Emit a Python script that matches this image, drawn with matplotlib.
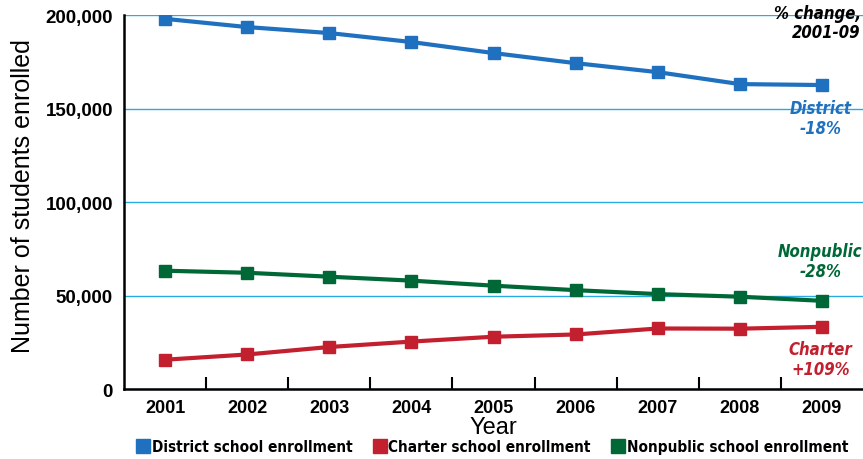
import numpy as np
import matplotlib
matplotlib.use("Agg")
import matplotlib.pyplot as plt
from matplotlib.ticker import FuncFormatter, FixedLocator

years = ["2001", "2002", "2003", "2004", "2005", "2006", "2007", "2008", "2009"]
district = [198000, 193600, 190400, 185600, 179700, 174300, 169500, 163100, 162600]
charter = [15700, 18500, 22500, 25400, 28000, 29200, 32400, 32300, 33300]
nonpublic = [63300, 62200, 60100, 58000, 55300, 52900, 50800, 49400, 47200]

blue = "#1f70bf"
red = "#c3202f"
green = "#006837"
grid_c = "#29abe2"

plt.rcParams['font.family'] = ['Liberation Sans', 'DejaVu Sans']
cond = dict(family=['DejaVu Sans'], stretch='condensed')

fig = plt.figure(figsize=(8.63, 4.6), dpi=100)
ax = fig.add_axes([0.1437, 0.152, 0.8563, 0.813])

x = np.arange(len(years))
ax.plot(x, district, color=blue, lw=3, marker='s', ms=9, label="District school enrollment")
ax.plot(x, charter, color=red, lw=3, marker='s', ms=9, label="Charter school enrollment")
ax.plot(x, nonpublic, color=green, lw=3, marker='s', ms=9, label="Nonpublic school enrollment")

ax.set_xlim(-0.5, 8.5)
ax.set_ylim(0, 200000)
ax.set_yticks([0, 50000, 100000, 150000, 200000])
ax.yaxis.set_major_formatter(FuncFormatter(lambda v, p: f"{int(v):,}"))
ax.yaxis.grid(True, color=grid_c, lw=1)
ax.set_axisbelow(True)
ax.tick_params(axis='y', length=0, pad=8, labelsize=13.5)
for t in ax.get_yticklabels():
    t.set_fontweight('bold')

ax.set_xticks(x)
ax.set_xticklabels(years, fontsize=13, fontweight='bold')
ax.xaxis.set_minor_locator(FixedLocator(np.arange(0.5, 8, 1)))
ax.tick_params(axis='x', which='major', length=0, pad=7)
ax.tick_params(axis='x', which='minor', length=9, width=1.5, direction='in')

for s in ['top', 'right']:
    ax.spines[s].set_visible(False)
ax.spines['left'].set_linewidth(1.8)
ax.spines['bottom'].set_linewidth(1.8)

ax.set_xlabel("Year", fontsize=17, labelpad=0)
ax.set_ylabel("Number of students enrolled", fontsize=18)
ax.yaxis.set_label_coords(-0.121, 0.52)

note = dict(fontsize=12, fontweight='bold', style='italic', linespacing=1.1, **cond)
ax.text(0.997, 1.03, "% change,\n2001-09", transform=ax.transAxes, ha='right', va='top',
        clip_on=False, **note)
ax.text(7.98, 155000, "District\n-18%", ha='center', va='top', color=blue, **note)
ax.text(7.98, 58500, "Nonpublic\n-28%", ha='center', va='bottom', color=green, **note)
ax.text(7.98, 6000, "Charter\n+109%", ha='center', va='bottom', color=red, **note)

handles = [plt.Line2D([], [], ls='none', marker='s', ms=10, color=c) for c in (blue, red, green)]
fig.legend(handles, ["District school enrollment", "Charter school enrollment",
                     "Nonpublic school enrollment"],
           loc='lower center', bbox_to_anchor=(0.57, -0.02), ncol=3, frameon=False,
           handletextpad=0.05, columnspacing=1.3, handlelength=1.0,
           prop={'family': ['DejaVu Sans'], 'stretch': 'condensed', 'weight': 'bold', 'size': 11})

fig.savefig("out.png", dpi=100)
